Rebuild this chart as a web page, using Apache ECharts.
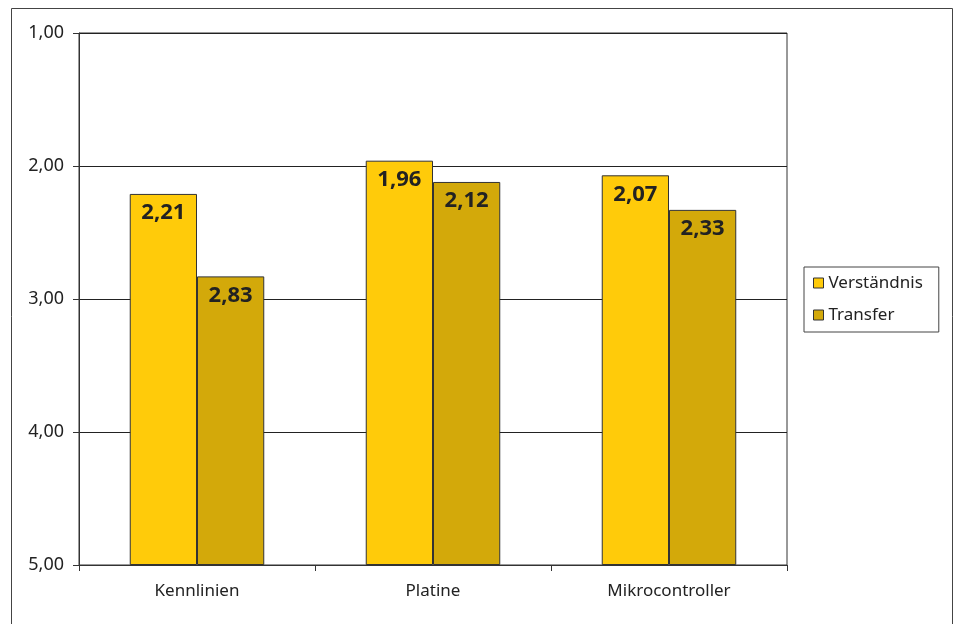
<!DOCTYPE html>
<html>
<head>
<meta charset="utf-8">
<script src="https://cdn.jsdelivr.net/npm/echarts@6/dist/echarts.min.js"></script>
<style>
html,body{margin:0;padding:0;background:#fff;}
#chart{width:960px;height:624px;}
</style>
</head>
<body>
<div id="chart"></div>
<script>
var categories = ['Kennlinien', 'Platine', 'Mikrocontroller'];
var seriesNames = ['Verständnis', 'Transfer'];
var verstaendnis = [2.21, 1.96, 2.07];
var transfer = [2.83, 2.12, 2.33];
var yTicks = [1, 2, 3, 4, 5];

function fmt(v) { return Number(v).toFixed(2).replace('.', ','); }

var FONT = '"Noto Sans", "Open Sans", sans-serif';
var chart = echarts.init(document.getElementById('chart'), null, { renderer: 'canvas' });

var labelCfg = {
  show: true,
  position: 'insideTop',
  distance: 8,
  fontFamily: FONT,
  fontSize: 22,
  fontWeight: 'bold',
  color: '#222',
  formatter: function (p) { return fmt(p.value); }
};

chart.setOption({
  animation: false,
  backgroundColor: '#fff',
  textStyle: { fontFamily: FONT },
  graphic: [{
    type: 'rect',
    shape: { x: 11.5, y: 8.5, width: 941, height: 700 },
    style: { fill: 'none', stroke: '#444', lineWidth: 1 },
    silent: true
  }],
  grid: {
    left: 79, top: 33, right: 173, bottom: 59,
    show: true, borderColor: '#333', borderWidth: 1, backgroundColor: 'transparent'
  },
  legend: {
    orient: 'vertical',
    left: 804, top: 267,
    padding: [6, 16, 7, 9],
    itemGap: 12,
    itemWidth: 10, itemHeight: 10,
    borderColor: '#444', borderWidth: 1,
    icon: 'rect',
    textStyle: { fontFamily: FONT, fontSize: 17, color: '#222', lineHeight: 20 },
    itemStyle: { borderColor: '#333', borderWidth: 1 },
    data: seriesNames
  },
  xAxis: {
    type: 'category',
    data: categories,
    axisLine: { lineStyle: { color: '#333', width: 1 } },
    axisTick: { show: true, length: 6, lineStyle: { color: '#333' } },
    axisLabel: { fontFamily: FONT, fontSize: 17, color: '#222', margin: 18 }
  },
  yAxis: {
    type: 'value',
    inverse: true,
    min: 1, max: 5, interval: 1,
    startValue: 5,
    axisLine: { show: true, lineStyle: { color: '#333', width: 1 } },
    axisTick: { show: true, length: 6, lineStyle: { color: '#333' } },
    splitLine: { show: true, lineStyle: { color: '#222', width: 1 } },
    axisLabel: {
      fontFamily: FONT, fontSize: 18, color: '#222', margin: 15,
      formatter: function (v) { return yTicks.indexOf(v) >= 0 ? fmt(v) : ''; }
    }
  },
  series: [{
    name: seriesNames[0],
    type: 'bar',
    data: verstaendnis,
    barGap: '0%',
    barCategoryGap: '43%',
    itemStyle: { color: '#FFCB0A', borderColor: '#333', borderWidth: 1 },
    label: labelCfg
  }, {
    name: seriesNames[1],
    type: 'bar',
    data: transfer,
    barGap: '0%',
    barCategoryGap: '43%',
    itemStyle: { color: '#D3A90A', borderColor: '#333', borderWidth: 1 },
    label: labelCfg
  }]
});
</script>
</body>
</html>
